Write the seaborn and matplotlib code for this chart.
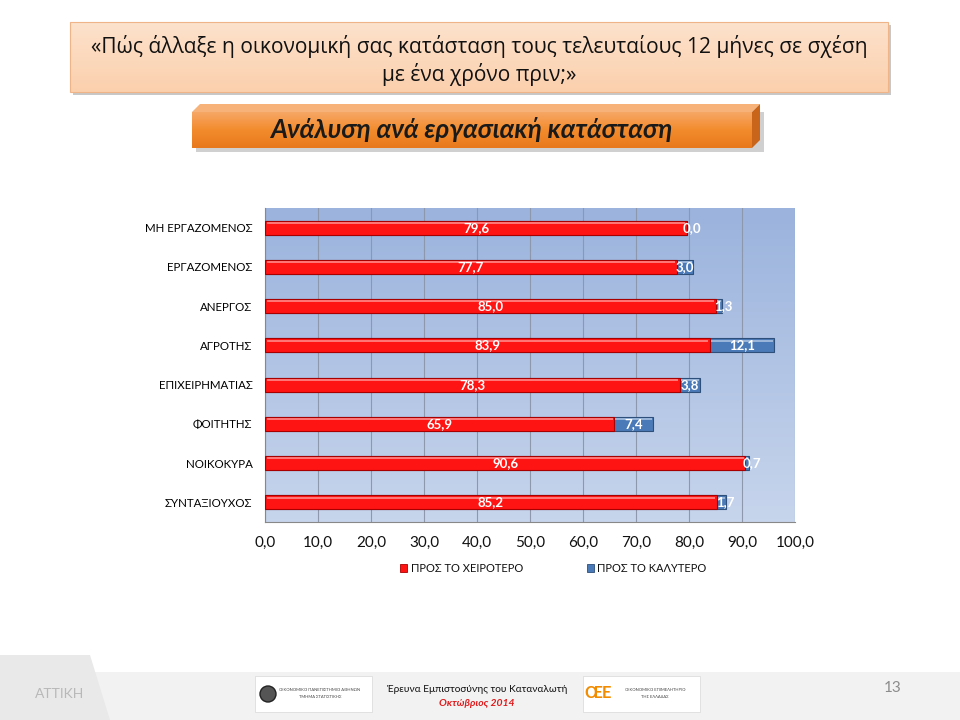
import matplotlib
matplotlib.use("Agg")
import matplotlib.pyplot as plt
import seaborn as sns
import numpy as np
import pandas as pd
from matplotlib.patches import Rectangle, Polygon
from matplotlib.colors import LinearSegmentedColormap

categories = ["ΜΗ ΕΡΓΑΖΟΜΕΝΟΣ", "ΕΡΓΑΖΟΜΕΝΟΣ", "ΑΝΕΡΓΟΣ", "ΑΓΡΟΤΗΣ",
              "ΕΠΙΧΕΙΡΗΜΑΤΙΑΣ", "ΦΟΙΤΗΤΗΣ", "ΝΟΙΚΟΚΥΡΑ", "ΣΥΝΤΑΞΙΟΥΧΟΣ"]
worse = [79.6, 77.7, 85.0, 83.9, 78.3, 65.9, 90.6, 85.2]
better = [0.0, 3.0, 1.3, 12.1, 3.8, 7.4, 0.7, 1.7]
series_names = ["ΠΡΟΣ ΤΟ ΧΕΙΡΟΤΕΡΟ", "ΠΡΟΣ ΤΟ ΚΑΛΥΤΕΡΟ"]
xticks = [0, 10, 20, 30, 40, 50, 60, 70, 80, 90, 100]

sns.set_style("white")
FONT = ["Lato", "DejaVu Sans"]
plt.rcParams["font.family"] = FONT

df = pd.DataFrame({"cat": categories, "worse": worse, "better": better})
df["total"] = df["worse"] + df["better"]

fig = plt.figure(figsize=(9.6, 7.2), dpi=100)
fig.patch.set_facecolor("white")

ax_bg = fig.add_axes([0, 0, 1, 1], zorder=-5)
ax_bg.set_xlim(0, 960)
ax_bg.set_ylim(720, 0)
ax_bg.axis("off")
grad = np.linspace(0, 1, 100).reshape(-1, 1)

# ---- Title box
ax_bg.add_patch(Rectangle((73, 25), 818, 70, facecolor="#c8c8c8", edgecolor="none"))
cmap_title = LinearSegmentedColormap.from_list("t", ["#fde2cc", "#fbd0ad"])
ax_bg.imshow(grad, extent=[70, 888, 92, 22], cmap=cmap_title, aspect="auto", zorder=1)
ax_bg.add_patch(Rectangle((70, 22), 818, 70, facecolor="none", edgecolor="#f0b489", lw=0.8, zorder=2))
ax_bg.text(479, 46, "«Πώς άλλαξε η οικονομική σας κατάσταση τους τελευταίους 12 μήνες σε σχέση",
           ha="center", va="center", fontsize=15.1, color="#111111", zorder=3,
           family=["Open Sans", "DejaVu Sans"])
ax_bg.text(479, 75, "με ένα χρόνο πριν;»", ha="center", va="center", fontsize=15.1,
           color="#111111", zorder=3, family=["Open Sans", "DejaVu Sans"])

# ---- Subtitle 3D box
ax_bg.add_patch(Rectangle((196, 112), 568, 40, facecolor="#d0d0d0", edgecolor="none", zorder=1))
cmap_sub = LinearSegmentedColormap.from_list("s", ["#f7a766", "#f28b2c", "#e8791c"])
ax_bg.imshow(grad, extent=[192, 752, 148, 112], cmap=cmap_sub, aspect="auto", zorder=2)
ax_bg.add_patch(Polygon([[192, 112], [752, 112], [760, 104], [200, 104]], closed=True,
                        facecolor="#f7b27a", edgecolor="none", zorder=2))
ax_bg.add_patch(Polygon([[752, 112], [760, 104], [760, 140], [752, 148]], closed=True,
                        facecolor="#c9651a", edgecolor="none", zorder=2))
ax_bg.text(471, 130, "Ανάλυση ανά εργασιακή κατάσταση", ha="center", va="center",
           fontsize=18.8, fontweight="bold", fontstyle="italic", color="#1a1a1a", zorder=3)

# ---- Footer
ax_bg.add_patch(Rectangle((0, 672), 960, 48, facecolor="#f2f2f2", edgecolor="none", zorder=0))
ax_bg.add_patch(Polygon([[0, 655], [90, 655], [110, 720], [0, 720]], closed=True,
                        facecolor="#e9e9e9", edgecolor="none", zorder=0))
ax_bg.text(60, 694, "ΑΤΤΙΚΗ", ha="center", va="center", fontsize=10, color="#b8b8b8", zorder=3)
ax_bg.add_patch(Rectangle((255, 676), 117, 36, facecolor="white", edgecolor="#dddddd", lw=0.6, zorder=1))
ax_bg.add_patch(plt.Circle((268, 694), 8, facecolor="#555555", edgecolor="#222222", zorder=2))
ax_bg.text(320, 690, "ΟΙΚΟΝΟΜΙΚΟ ΠΑΝΕΠΙΣΤΗΜΙΟ ΑΘΗΝΩΝ", ha="center", va="center", fontsize=3,
           color="#444444", zorder=3)
ax_bg.text(320, 697, "ΤΜΗΜΑ ΣΤΑΤΙΣΤΙΚΗΣ", ha="center", va="center", fontsize=3,
           color="#444444", zorder=3)
ax_bg.text(477, 690, "Έρευνα Εμπιστοσύνης του Καταναλωτή", ha="center", va="center",
           fontsize=7.3, color="#111111", zorder=3)
ax_bg.text(477, 704, "Οκτώβριος 2014", ha="center", va="center", fontsize=7.5,
           color="#e0191b", fontstyle="italic", fontweight="bold", zorder=3)
ax_bg.add_patch(Rectangle((583, 676), 117, 36, facecolor="white", edgecolor="#dddddd", lw=0.6, zorder=1))
ax_bg.text(598, 693, "ŒE", ha="center", va="center", fontsize=12, color="#f28b00",
           fontweight="bold", zorder=3)
ax_bg.text(655, 690, "ΟΙΚΟΝΟΜΙΚΟ ΕΠΙΜΕΛΗΤΗΡΙΟ", ha="center", va="center", fontsize=3,
           color="#444444", zorder=3)
ax_bg.text(655, 697, "ΤΗΣ ΕΛΛΑΔΑΣ", ha="center", va="center", fontsize=3,
           color="#444444", zorder=3)
ax_bg.text(893, 688, "13", ha="center", va="center", fontsize=11, color="#8c8c8c", zorder=3)

# ---- Chart axes
ax = fig.add_axes([265 / 960, 1 - 522 / 720, 530 / 960, 314 / 720])
cmap_plot = LinearSegmentedColormap.from_list("p", ["#9bb3dd", "#c7d5ec"])
ax.imshow(np.linspace(0, 1, 100).reshape(-1, 1), extent=[0, 100, 7.5, -0.5],
          cmap=cmap_plot, aspect="auto", zorder=0)

sns.barplot(data=df, y="cat", x="total", color="#4a7ab8", orient="h", width=0.36,
            edgecolor="#2e4f7a", linewidth=0.8, ax=ax, zorder=2, saturation=1)
sns.barplot(data=df, y="cat", x="worse", color="#ff1414", orient="h", width=0.36,
            edgecolor="#a80000", linewidth=0.8, ax=ax, zorder=3, saturation=1)

for i, (w, t) in enumerate(zip(worse, df["total"])):
    ax.plot([0.3, w - 0.3], [i - 0.12, i - 0.12], color="#ff8a8a", lw=1.2, zorder=4,
            solid_capstyle="butt")
    if t - w > 0.3:
        ax.plot([w + 0.2, t - 0.2], [i - 0.12, i - 0.12], color="#a9c0e0", lw=1.2, zorder=4,
                solid_capstyle="butt")

for i, (w, b) in enumerate(zip(worse, better)):
    ax.text(w / 2, i, f"{w:.1f}".replace(".", ","), ha="center", va="center",
            color="white", fontsize=9.5, fontweight="bold", zorder=5)
    ax.text(w + b / 2 + (0.9 if b < 2 else 0), i, f"{b:.1f}".replace(".", ","),
            ha="center", va="center", color="white", fontsize=9.5, fontweight="bold", zorder=5)

ax.set_xlim(0, 100)
ax.set_ylim(7.5, -0.5)
ax.set_xticks(xticks)
ax.set_xticklabels([f"{v:.1f}".replace(".", ",") for v in xticks], fontsize=11, color="#111111")
ax.set_yticks(range(len(categories)))
ax.set_yticklabels(categories, fontsize=8.3, color="#000000")
ax.tick_params(axis="y", length=0, pad=9)
ax.tick_params(axis="x", length=4, color="#888888", pad=6)
ax.set_xlabel("")
ax.set_ylabel("")
for x in xticks:
    ax.axvline(x, color="#8d98ad", lw=0.8, zorder=1)
for s in ["top", "right"]:
    ax.spines[s].set_visible(False)
ax.spines["left"].set_color("#888888")
ax.spines["bottom"].set_color("#888888")
ax.set_yticks(np.arange(-0.5, 8, 1), minor=True)
ax.tick_params(axis="y", which="minor", length=4, color="#888888")

# ---- Legend
ax_bg.add_patch(Rectangle((400, 564), 7, 8, facecolor="#ff1414", edgecolor="#a80000", lw=0.6, zorder=3))
ax_bg.text(411, 568, series_names[0], ha="left", va="center", fontsize=8, color="#111111", zorder=3)
ax_bg.add_patch(Rectangle((587, 564), 7, 8, facecolor="#4a7ab8", edgecolor="#2e4f7a", lw=0.6, zorder=3))
ax_bg.text(597, 568, series_names[1], ha="left", va="center", fontsize=8, color="#111111", zorder=3)

fig.savefig("out.png", dpi=100)
